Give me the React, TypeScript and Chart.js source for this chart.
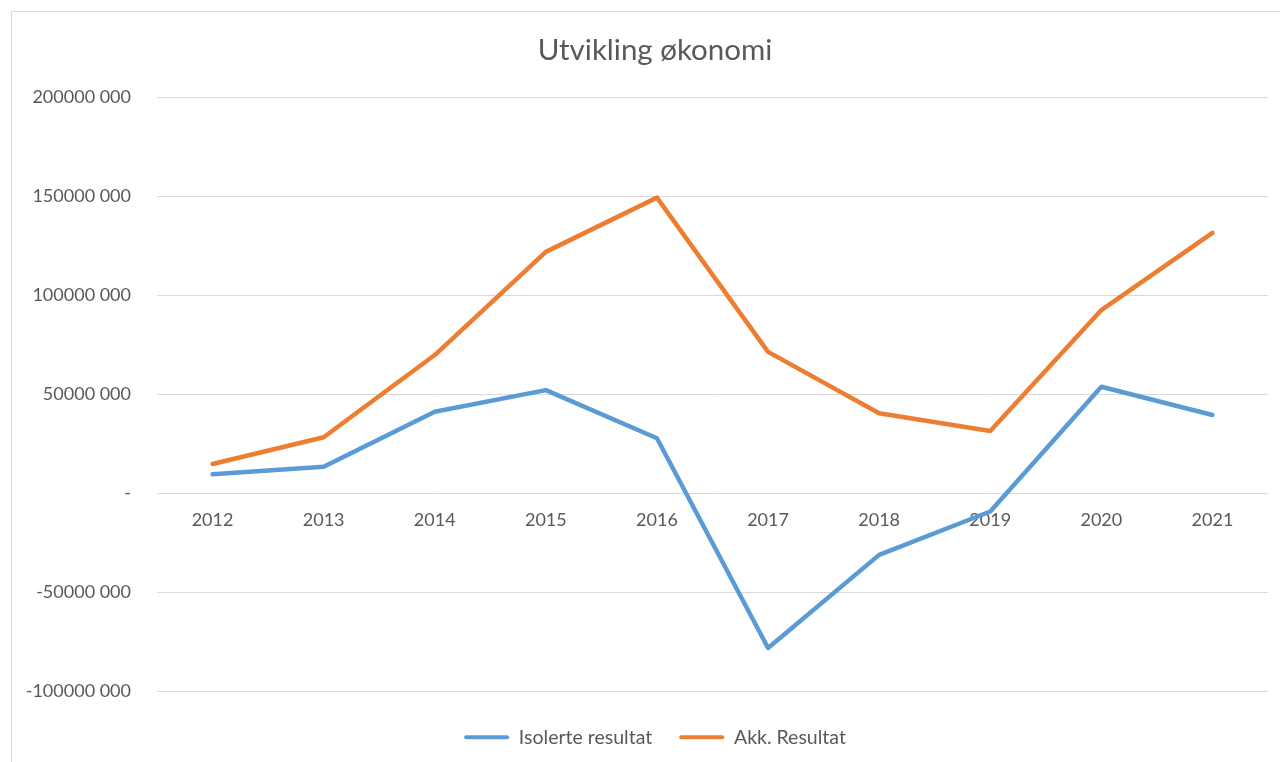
import React, { useEffect, useRef } from "react";
import { Chart, registerables } from "chart.js";

Chart.register(...registerables);

const categories = ["2012", "2013", "2014", "2015", "2016", "2017", "2018", "2019", "2020", "2021"];
const isolerteResultat = [9.7e6, 13.5e6, 41.3e6, 52.2e6, 27.9e6, -78.0e6, -31.0e6, -9.1e6, 53.9e6, 39.6e6];
const akkResultat = [14.9e6, 28.4e6, 69.9e6, 122.0e6, 149.4e6, 71.5e6, 40.5e6, 31.5e6, 92.6e6, 131.6e6];
const yTicks = [-100e6, -50e6, 0, 50e6, 100e6, 150e6, 200e6];

const FONT = "Lato";
const TEXT = "#595959";
const GRID = "#d9d9d9";

function fmt(v: number): string {
  if (v === 0) return "-";
  const sign = v < 0 ? "-" : "";
  const a = Math.abs(v);
  const hi = Math.floor(a / 1000);
  const lo = String(a % 1000).padStart(3, "0");
  return `${sign}${hi} ${lo}`;
}

export default function App() {
  const ref = useRef<HTMLCanvasElement | null>(null);
  useEffect(() => {
    if (!ref.current) return;
    const chart = new Chart(ref.current, {
      type: "line",
      data: {
        labels: categories,
        datasets: [
          {
            label: "Isolerte resultat",
            data: isolerteResultat,
            borderColor: "#5b9bd5",
            backgroundColor: "#5b9bd5",
            borderWidth: 4.5,
            pointRadius: 0,
            pointHoverRadius: 0,
            tension: 0,
            borderCapStyle: "round",
            borderJoinStyle: "round",
          },
          {
            label: "Akk. Resultat",
            data: akkResultat,
            borderColor: "#ed7d31",
            backgroundColor: "#ed7d31",
            borderWidth: 4.5,
            pointRadius: 0,
            pointHoverRadius: 0,
            tension: 0,
            borderCapStyle: "round",
            borderJoinStyle: "round",
          },
        ],
      },
      options: {
        animation: false,
        responsive: false,
        maintainAspectRatio: false,
        layout: { padding: { left: 0, right: 0, top: 0, bottom: 17 } },
        plugins: {
          title: {
            display: true,
            text: "Utvikling økonomi",
            color: TEXT,
            font: { family: FONT, size: 29.5, weight: "normal", lineHeight: 1.2 },
            padding: { top: 21, bottom: 29 },
          },
          legend: {
            position: "bottom",
            labels: {
              color: TEXT,
              font: { family: FONT, size: 19.5 },
              boxWidth: 45,
              boxHeight: 4,
              padding: 27,
              generateLabels: (c: any) =>
                c.data.datasets.map((d: any, i: number) => ({
                  text: d.label,
                  fillStyle: d.borderColor,
                  strokeStyle: d.borderColor,
                  lineWidth: 0,
                  fontColor: TEXT,
                  hidden: false,
                  datasetIndex: i,
                  borderRadius: 2,
                })),
              useBorderRadius: true,
              borderRadius: 2,
            },
          },
          tooltip: { enabled: false },
        },
        scales: {
          x: {
            type: "category",
            offset: true,
            position: { y: 0 } as any,
            grid: { display: false, drawTicks: false },
            border: { display: false },
            ticks: { color: TEXT, font: { family: FONT, size: 18 }, padding: 16, maxRotation: 0 },
          },
          x2: {
            type: "category",
            offset: true,
            position: "bottom",
            labels: categories,
            grid: { display: false, drawTicks: false },
            border: { display: false },
            ticks: { display: false },
            afterFit: (s: any) => {
              s.height = 9;
            },
          },
          y: {
            min: -100e6,
            max: 200e6,
            afterBuildTicks: (s: any) => {
              s.ticks = yTicks.map((v) => ({ value: v }));
            },
            grid: { color: GRID, lineWidth: 1, drawTicks: false },
            border: { display: false },
            ticks: {
              color: TEXT,
              font: { family: FONT, size: 18 },
              padding: 26,
              callback: (v: any) => fmt(Number(v)),
            },
            afterFit: (s: any) => {
              s.width = 145;
            },
          },
          y2: {
            type: "linear",
            position: "right",
            min: -100e6,
            max: 200e6,
            grid: { display: false, drawTicks: false },
            border: { display: false },
            ticks: { display: false },
            afterFit: (s: any) => {
              s.width = 30;
            },
          },
        },
      },
    });
    return () => chart.destroy();
  }, []);

  return (
    <div style={{ position: "absolute", left: 0, top: 0, width: 1280, height: 762, overflow: "hidden", background: "#fff" }}>
      <div
        style={{
          position: "absolute",
          left: 11,
          top: 11,
          width: 1286,
          height: 772,
          border: "1px solid #d9d9d9",
          background: "#fff",
        }}
      >
        <canvas ref={ref} width={1286} height={762} style={{ display: "block", width: 1286, height: 762 }} />
      </div>
    </div>
  );
}
